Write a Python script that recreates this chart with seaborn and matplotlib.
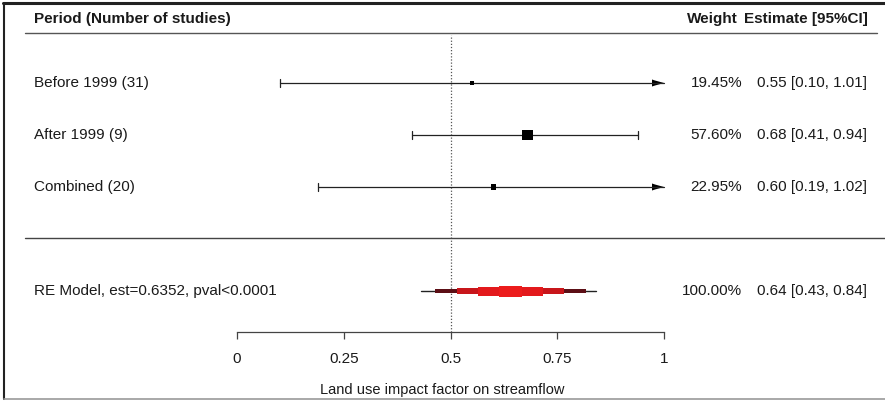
import matplotlib
matplotlib.use("Agg")
import matplotlib.pyplot as plt
from matplotlib.lines import Line2D
from matplotlib.patches import Rectangle, Polygon
import seaborn as sns

sns.set_theme(style="white")
plt.rcParams['font.family'] = ['Liberation Sans', 'DejaVu Sans']

# study rows (top to bottom)
labels = ["Before 1999 (31)", "After 1999 (9)", "Combined (20)"]
weights = [19.45, 57.60, 22.95]
estimates = [0.55, 0.68, 0.60]
ci_low = [0.10, 0.41, 0.19]
ci_high = [1.01, 0.94, 1.02]
rows = [5, 4, 3]

# pooled random-effects model
re_label = "RE Model, est=0.6352, pval<0.0001"
re_weight = 100.00
re_est = 0.64
re_low = 0.43
re_high = 0.84
re_row = 1

x_ticks = [0, 0.25, 0.5, 0.75, 1]
x_ticklabels = ["0", "0.25", "0.5", "0.75", "1"]

W, H = 885, 401
FS = 11
TXT = "#1a1a1a"


def row_of(px):
    # pixel row -> data row (row 5 sits at 83 px, 52 px per row)
    return 5 - (px - 83) / 52


fig = plt.figure(figsize=(W / 100, H / 100), dpi=100)
ax = fig.add_axes([0, 1 - 332 / H, 1, 332 / H])
ax.set_xlim(-237 / 427, (W - 237) / 427)
ax.set_ylim(row_of(332), row_of(0))
ax.set_facecolor("white")

for s in ["top", "right", "left"]:
    ax.spines[s].set_visible(False)
ax.spines["bottom"].set_bounds(0, 1)
ax.spines["bottom"].set_color("#444444")
ax.spines["bottom"].set_linewidth(0.9)
ax.set_yticks([])
ax.set_xticks(x_ticks)
ax.set_xticklabels(x_ticklabels)
ax.tick_params(axis="x", bottom=True, direction="out", length=5, width=0.9,
               color="#444444", pad=9.5, labelsize=FS, labelcolor=TXT)
ax.set_xlabel("Land use impact factor on streamflow", fontsize=10.5, color=TXT, labelpad=12)

# reference line at 0.5
ax.vlines(0.5, row_of(332), row_of(35), colors="#555555", linestyles=(0, (1, 1.5)), linewidth=0.9)

# confidence intervals
cap = 4 / 52
for r, lo, hi in zip(rows, ci_low, ci_high):
    right = min(hi, 1)
    ax.plot([lo, right], [r, r], color="#222222", lw=0.9)
    ax.plot([lo, lo], [r - cap, r + cap], color="#222222", lw=0.9)
    if hi > 1:
        ax.add_patch(Polygon([[1 - 12 / 427, r + 3.5 / 52], [1 - 9 / 427, r + 2.5 / 52],
                              [1, r], [1 - 9 / 427, r - 2.5 / 52], [1 - 12 / 427, r - 3.5 / 52]],
                             closed=True, color="black", lw=0))
    else:
        ax.plot([hi, hi], [r - cap, r + cap], color="#222222", lw=0.9)

sns.scatterplot(x=estimates, y=rows, size=weights, sizes=(9, 55), marker="s",
                color="black", linewidth=0, legend=False, ax=ax, zorder=5)

# pooled estimate, layered bar
ax.plot([re_low, re_high], [re_row, re_row], color="#222222", lw=1.0)
half = (re_high - re_low) / 2
layers = [(0.86, 2.0, "#5c0f16"), (0.61, 3.0, "#c8161b"),
          (0.37, 4.5, "#e3191c"), (0.13, 5.5, "#ec1c1c")]
for frac, hh, col in layers:
    ax.add_patch(Rectangle((re_est - frac * half, re_row - hh / 52), 2 * frac * half, 2 * hh / 52,
                           color=col, lw=0, zorder=3))

# text columns
tr = ax.get_yaxis_transform()
ax.text(34 / W, row_of(19), "Period (Number of studies)", transform=tr, ha="left", va="center",
        fontsize=FS, fontweight="bold", color=TXT)
ax.text(738 / W, row_of(19), "Weight", transform=tr, ha="right", va="center",
        fontsize=FS, fontweight="bold", color=TXT)
ax.text(868 / W, row_of(19), "Estimate [95%CI]", transform=tr, ha="right", va="center",
        fontsize=FS, fontweight="bold", color=TXT)

for r, lab, w, e, lo, hi in zip(rows, labels, weights, estimates, ci_low, ci_high):
    ax.text(34 / W, r, lab, transform=tr, ha="left", va="center", fontsize=FS, color=TXT)
    ax.text(742 / W, r, f"{w:.2f}%", transform=tr, ha="right", va="center", fontsize=FS, color=TXT)
    ax.text(867 / W, r, f"{e:.2f} [{lo:.2f}, {hi:.2f}]", transform=tr, ha="right", va="center",
            fontsize=FS, color=TXT)

ax.text(34 / W, re_row, re_label, transform=tr, ha="left", va="center", fontsize=FS, color=TXT)
ax.text(742 / W, re_row, f"{re_weight:.2f}%", transform=tr, ha="right", va="center", fontsize=FS, color=TXT)
ax.text(867 / W, re_row, f"{re_est:.2f} [{re_low:.2f}, {re_high:.2f}]", transform=tr, ha="right",
        va="center", fontsize=FS, color=TXT)

# header and separator rules
ax.plot([25 / W, 877 / W], [row_of(32.5)] * 2, transform=tr, color="#555555", lw=1.0)
ax.plot([25 / W, 1], [row_of(238)] * 2, transform=tr, color="#444444", lw=1.0)

# outer frame
fig.add_artist(Line2D([3 / W, 1], [1 - 3 / H, 1 - 3 / H], color="#222222", lw=2.2))
fig.add_artist(Line2D([4 / W, 4 / W], [1 - 3 / H, 2 / H], color="#222222", lw=1.5))
fig.add_artist(Line2D([4 / W, 1], [2 / H, 2 / H], color="#999999", lw=1.2))

fig.savefig("out.png", dpi=100, facecolor="white")
